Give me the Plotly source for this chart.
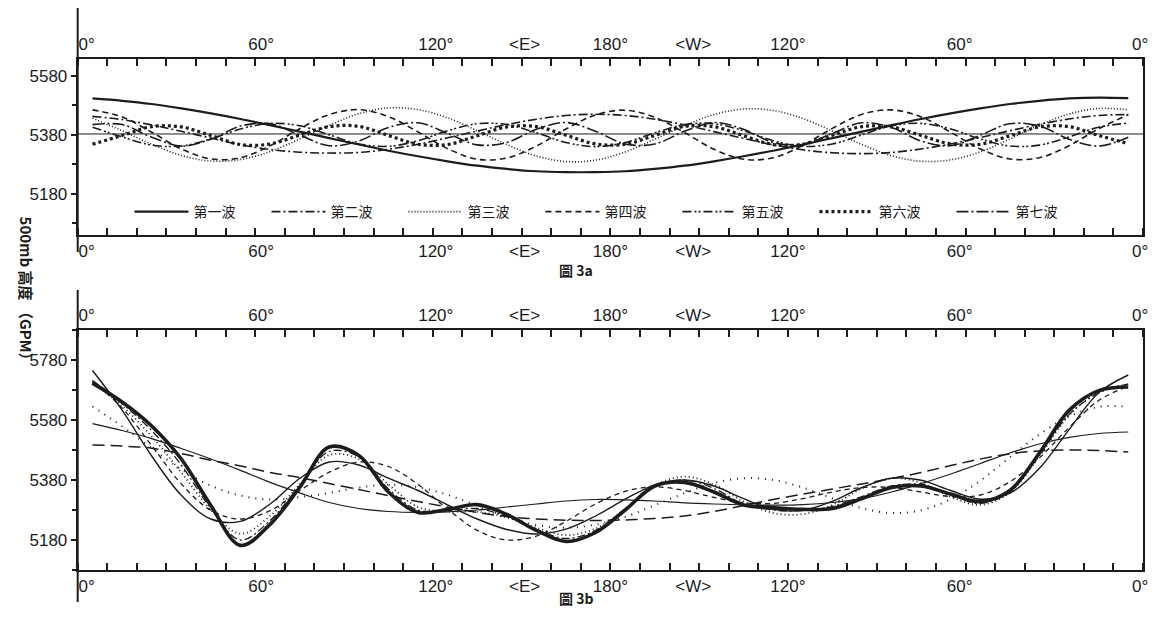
import plotly.graph_objects as go

# ---------------- data ----------------
LON = [5, 15, 25, 35, 45, 55, 65, 75, 85, 95, 105, 115, 125, 135, 145, 155, 165, 175,
       185, 195, 205, 215, 225, 235, 245, 255, 265, 275, 285, 295, 305, 315, 325, 335, 345, 355]

# Fig 3a: individual harmonic waves added to the zonal mean (gpm)
MEAN_LON = [0, 360]
MEAN_A = [5383, 5383]
WAVE1 = [5504, 5496, 5485, 5470, 5453, 5434, 5413, 5391, 5369, 5347, 5326, 5307, 5290, 5275, 5264, 5256, 5253, 5253,
         5256, 5264, 5275, 5290, 5307, 5326, 5347, 5369, 5391, 5413, 5434, 5453, 5470, 5485, 5496, 5504, 5507, 5505]
WAVE2 = [5443, 5432, 5414, 5392, 5369, 5346, 5330, 5321, 5318, 5320, 5331, 5348, 5370, 5393, 5415, 5433, 5446, 5450,
         5446, 5433, 5414, 5391, 5368, 5346, 5329, 5319, 5316, 5320, 5332, 5349, 5371, 5394, 5416, 5434, 5446, 5449]
WAVE3 = [5437, 5394, 5348, 5310, 5291, 5296, 5323, 5366, 5412, 5452, 5472, 5466, 5438, 5394, 5347, 5308, 5289, 5294,
         5322, 5365, 5411, 5449, 5468, 5463, 5436, 5393, 5347, 5309, 5290, 5295, 5322, 5366, 5413, 5451, 5470, 5465]
WAVE4 = [5465, 5441, 5389, 5332, 5298, 5302, 5343, 5401, 5449, 5466, 5442, 5390, 5333, 5297, 5301, 5342, 5400, 5448,
         5464, 5440, 5388, 5331, 5297, 5302, 5344, 5402, 5450, 5465, 5441, 5389, 5332, 5298, 5302, 5343, 5401, 5449]
WAVE5 = [5406, 5373, 5345, 5342, 5366, 5400, 5419, 5411, 5380, 5349, 5341, 5360, 5394, 5418, 5415, 5387, 5354, 5340,
         5354, 5387, 5415, 5418, 5394, 5360, 5341, 5349, 5380, 5411, 5419, 5400, 5366, 5342, 5345, 5373, 5406, 5420]
WAVE6 = [5348, 5378, 5408, 5407, 5378, 5347, 5349, 5379, 5408, 5409, 5378, 5348, 5347, 5377, 5407, 5408, 5379, 5349,
         5348, 5378, 5409, 5408, 5377, 5347, 5348, 5379, 5408, 5407, 5378, 5349, 5348, 5377, 5407, 5408, 5378, 5350]
WAVE7 = [5415, 5415, 5372, 5342, 5365, 5410, 5418, 5379, 5343, 5359, 5405, 5421, 5385, 5346, 5354, 5399, 5422, 5392,
         5349, 5349, 5392, 5422, 5399, 5354, 5346, 5385, 5421, 5405, 5359, 5343, 5379, 5418, 5410, 5365, 5342, 5372]
WAVE_NAMES = ["第一波", "第二波", "第三波", "第四波", "第五波", "第六波", "第七波"]

# Fig 3b: cumulative syntheses and the observed profile (gpm)
SYN1 = [5497, 5493, 5486, 5468, 5446, 5427, 5405, 5388, 5368, 5348, 5328, 5308, 5290, 5272, 5258, 5250, 5246, 5245,
        5247, 5252, 5260, 5275, 5295, 5315, 5333, 5350, 5367, 5385, 5405, 5428, 5450, 5467, 5477, 5480, 5478, 5473]
SYN2 = [5568, 5545, 5518, 5485, 5450, 5412, 5372, 5337, 5305, 5285, 5275, 5272, 5274, 5280, 5290, 5300, 5310, 5315,
        5314, 5310, 5304, 5300, 5297, 5296, 5298, 5305, 5318, 5340, 5368, 5400, 5435, 5470, 5500, 5522, 5535, 5540]
SYN3 = [5625, 5559, 5486, 5415, 5361, 5328, 5315, 5323, 5337, 5355, 5364, 5356, 5331, 5294, 5258, 5230, 5221, 5231,
        5257, 5296, 5336, 5370, 5386, 5380, 5355, 5319, 5286, 5270, 5279, 5316, 5378, 5456, 5532, 5592, 5624, 5624]
SYN4 = [5710, 5620, 5495, 5367, 5279, 5250, 5278, 5344, 5406, 5440, 5425, 5365, 5283, 5212, 5180, 5193, 5242, 5300,
        5342, 5357, 5345, 5322, 5304, 5302, 5318, 5340, 5355, 5355, 5340, 5325, 5330, 5374, 5454, 5555, 5645, 5693]
SYN5 = [5745, 5613, 5460, 5329, 5250, 5242, 5300, 5385, 5440, 5430, 5386, 5345, 5297, 5250, 5215, 5200, 5216, 5260,
        5316, 5364, 5380, 5360, 5318, 5282, 5279, 5309, 5355, 5386, 5379, 5345, 5316, 5336, 5419, 5548, 5671, 5730]
SYN6 = [5705, 5627, 5525, 5405, 5280, 5201, 5260, 5365, 5463, 5450, 5365, 5290, 5275, 5274, 5255, 5221, 5196, 5218,
        5283, 5362, 5391, 5365, 5308, 5270, 5266, 5297, 5352, 5386, 5370, 5324, 5297, 5338, 5460, 5595, 5675, 5697]
SYN7 = [5712, 5635, 5545, 5430, 5285, 5180, 5245, 5362, 5475, 5458, 5350, 5280, 5278, 5285, 5258, 5215, 5185, 5212,
        5283, 5358, 5380, 5352, 5300, 5280, 5278, 5292, 5325, 5360, 5365, 5330, 5302, 5342, 5465, 5598, 5670, 5700]
OBS = [5703, 5640, 5560, 5450, 5295, 5162, 5232, 5355, 5490, 5462, 5340, 5272, 5282, 5298, 5265, 5212, 5175, 5205,
       5280, 5360, 5372, 5340, 5297, 5288, 5282, 5285, 5318, 5355, 5360, 5333, 5308, 5345, 5470, 5612, 5678, 5690]

# axis tick labels
X_TICK_POS = [3, 62, 121, 151, 180, 208, 240, 298, 359]
X_TICK_TXT = ["0°", "60°", "120°", "<E>", "180°", "<W>", "120°", "60°", "0°"]
X_MINOR = [0, 10, 20, 30, 40, 50, 60, 70, 80, 90, 100, 110, 120, 130, 140, 150, 160, 170, 180,
           190, 200, 210, 220, 230, 240, 250, 260, 270, 280, 290, 300, 310, 320, 330, 340, 350, 360]
YA_TICKS = [5180, 5380, 5580]
YB_TICKS = [5180, 5380, 5580, 5780]

# ---------------- layout helpers ----------------
OFF = 8                      # default page margin of the html body
FW, FH = 1155, 605
INK = "#1c1c1c"


def px(p):
    return (p - OFF) / FW


def py(p):
    return 1 - (p - OFF) / FH


XDOM = [px(78), px(1148)]
YDOM_A = [py(235), py(58.5)]
YDOM_B = [py(570), py(330)]
TICKFONT = dict(family="Liberation Sans, Arial, sans-serif", size=17, color=INK)
CJK = "Noto Sans CJK TC, Noto Sans CJK SC, sans-serif"

fig = go.Figure()

# --- panel a ---
fig.add_trace(go.Scatter(x=MEAN_LON, y=MEAN_A, mode="lines", line=dict(color=INK, width=1),
                         showlegend=False, hoverinfo="skip", xaxis="x", yaxis="y"))
styles_a = [
    dict(width=2.2, dash="solid"),
    dict(width=1.6, dash="9px,3px,2px,3px"),
    dict(width=1.6, dash="1px,2px"),
    dict(width=1.6, dash="6px,4px"),
    dict(width=1.6, dash="9px,3px,2px,2px,2px,3px"),
    dict(width=3.2, dash="3px,3px"),
    dict(width=1.6, dash="12px,3px,2px,3px"),
]
for name, ys, st in zip(WAVE_NAMES, [WAVE1, WAVE2, WAVE3, WAVE4, WAVE5, WAVE6, WAVE7], styles_a):
    fig.add_trace(go.Scatter(x=LON, y=ys, mode="lines", name=name,
                             line=dict(color=INK, shape="spline", smoothing=1.0, **st),
                             xaxis="x", yaxis="y"))
fig.add_trace(go.Scatter(x=[None], y=[None], xaxis="x2", yaxis="y", showlegend=False, hoverinfo="skip"))

# --- panel b ---
styles_b = [
    (SYN1, dict(width=1.5, dash="12px,6px")),
    (SYN2, dict(width=1.2, dash="solid")),
    (SYN3, dict(width=2.0, dash="1px,6px")),
    (SYN4, dict(width=1.3, dash="5px,4px")),
    (SYN5, dict(width=1.4, dash="solid")),
    (SYN6, dict(width=1.8, dash="1px,3px")),
    (SYN7, dict(width=1.3, dash="8px,3px,2px,3px")),
    (OBS, dict(width=3.6, dash="solid")),
]
for ys, st in styles_b:
    fig.add_trace(go.Scatter(x=LON, y=ys, mode="lines", showlegend=False,
                             line=dict(color=INK, shape="spline", smoothing=1.0, **st),
                             xaxis="x3", yaxis="y2"))
fig.add_trace(go.Scatter(x=[None], y=[None], xaxis="x4", yaxis="y2", showlegend=False, hoverinfo="skip"))

xcommon = dict(range=[0, 360], showgrid=False, zeroline=False, showline=True, linewidth=2, linecolor=INK,
               tickmode="array", tickvals=X_TICK_POS, ticktext=X_TICK_TXT, ticks="",
               tickfont=TICKFONT, fixedrange=True,
               minor=dict(tickmode="array", tickvals=X_MINOR, ticks="inside", ticklen=7, tickwidth=1.5,
                          tickcolor=INK, showgrid=False))
ycommon = dict(showgrid=False, zeroline=False, showline=True, linewidth=2, linecolor=INK, mirror=True,
               ticks="outside", ticklen=5, tickwidth=2, tickcolor=INK, tickfont=TICKFONT, fixedrange=True)

fig.update_layout(
    width=FW, height=FH,
    margin=dict(l=0, r=0, t=0, b=0),
    paper_bgcolor="white", plot_bgcolor="white",
    xaxis=dict(domain=XDOM, anchor="y", side="bottom", **xcommon),
    xaxis2=dict(overlaying="x", anchor="y", side="top", **xcommon),
    xaxis3=dict(domain=XDOM, anchor="y2", side="bottom", **xcommon),
    xaxis4=dict(overlaying="x3", anchor="y2", side="top", **xcommon),
    yaxis=dict(domain=YDOM_A, anchor="x", range=[5039, 5640], tickvals=YA_TICKS,
               minor=dict(dtick=100, tick0=5080, ticks="outside", ticklen=4, tickcolor=INK), **ycommon),
    yaxis2=dict(domain=YDOM_B, anchor="x3", range=[5080, 5880], tickvals=YB_TICKS,
                minor=dict(dtick=100, tick0=5080, ticks="outside", ticklen=4, tickcolor=INK), **ycommon),
    legend=dict(orientation="h", x=px(130), y=py(212), xanchor="left", yanchor="middle",
                entrywidth=68, entrywidthmode="pixels", itemwidth=54,
                font=dict(family=CJK, size=14, color=INK), bgcolor="rgba(0,0,0,0)"),
    showlegend=True,
    shapes=[
        dict(type="line", xref="paper", yref="paper", x0=px(78), x1=px(78), y0=py(8), y1=py(252),
             line=dict(color=INK, width=2)),
        dict(type="line", xref="paper", yref="paper", x0=px(78), x1=px(78), y0=py(290), y1=py(602),
             line=dict(color=INK, width=2)),
    ],
    annotations=[
        dict(text="<b>圖 3a</b>", x=px(578), y=py(270), xref="paper", yref="paper", showarrow=False,
             font=dict(family=CJK, size=14, color=INK)),
        dict(text="<b>圖 3b</b>", x=px(578), y=py(610), xref="paper", yref="paper", showarrow=False,
             font=dict(family=CJK, size=14, color=INK)),
        dict(text="<b>500mb 高度 （GPM）</b>", x=px(15), y=py(292), xref="paper", yref="paper",
             showarrow=False, textangle=90, font=dict(family=CJK, size=15, color=INK)),
    ],
)

fig.write_html("out.html")
